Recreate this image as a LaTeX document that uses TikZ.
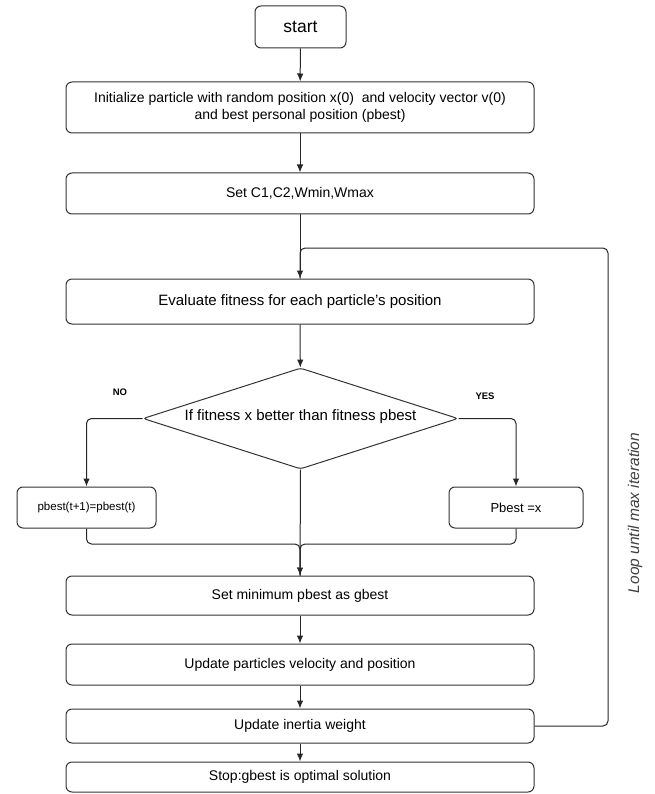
\documentclass[tikz,border=0pt]{standalone}
\usepackage{fontspec}
\setmainfont{Liberation Sans}
\usetikzlibrary{shapes.geometric,arrows.meta}

\begin{document}
\begin{tikzpicture}[x=1pt,y=-1pt]
  % some styles
  \tikzset{
    flow/.style={
      draw=black!80,
      line width=1pt,
      rounded corners=6pt
    },
    box/.style={
      flow,
      rectangle,
      minimum width=468pt,
      inner sep=0pt,
      align=center,
      font=\fontsize{14}{17}\selectfont
    },
    cond/.style={
      flow,
      diamond,
      aspect=3.1,
      inner sep=0pt,
      rounded corners=3pt,
      minimum width=315pt,
      minimum height=101pt,
      font=\fontsize{15}{18}\selectfont
    },
    link/.style={
      draw=black!85,
      line width=1pt,
      -{Latex[length=8pt,width=6.5pt]},
      rounded corners=5pt
    },
    mergeline/.style={
      draw=black!85,
      line width=1pt,
      rounded corners=5pt
    }
  }

\useasboundingbox (0,0) rectangle (654,794);

\node[box,minimum width=91pt,minimum height=42pt,font=\fontsize{17.5}{20}\selectfont] (start) at (300.5,27) {start};
\node[box,minimum height=51pt] (init) at (300,107.5)
  {Initialize particle with random position x(0)\ \ and velocity vector v(0)\\and best personal position (pbest)};
\node[box,minimum height=41pt] (setc) at (300,193.5) {Set C1,C2,Wmin,Wmax};
\node[box,minimum height=45pt,font=\fontsize{15}{18}\selectfont] (eval) at (300,301.5) {Evaluate fitness for each particle's position};
\node[cond] (dec) at (300.5,418.5) {\raisebox{7pt}{If fitness x better than fitness pbest}};
\node[box,minimum width=139pt,minimum height=41pt,font=\fontsize{11.5}{14}\selectfont] (pold) at (86.5,507.5) {pbest(t+1)=pbest(t)};
\node[box,minimum width=134pt,minimum height=41pt,font=\fontsize{13}{16}\selectfont] (pnew) at (516,507.5) {Pbest =x};
\node[box,minimum height=39pt] (gbest) at (300,595.5) {Set minimum pbest as gbest};
\node[box,minimum height=41pt] (upd) at (300,664.5) {Update particles velocity and position};
\node[box,minimum height=34pt] (inert) at (300,726) {Update inertia weight};
\node[box,minimum height=30pt] (stop) at (300,777) {Stop:gbest is optimal solution};

\node[font=\fontsize{9.5}{11}\selectfont\bfseries] (no) at (120,392) {NO};
\node[font=\fontsize{9.5}{11}\selectfont\bfseries] (yes) at (485,396) {YES};
\node[rotate=90,font=\fontsize{15.5}{18}\selectfont\itshape,text=black!75] (loop) at (635,513) {Loop until max iteration};

\coordinate (mrg) at (300,544);
\coordinate (rt) at (608,248);

% main column
\draw[link] (start) -- (init);
\draw[link] (init) -- (setc);
\draw[link] (setc) -- (eval);
\draw[link] (eval) -- (dec);
\draw[link] (dec.west) -| (pold.north);
\draw[link] (dec.east) -| (pnew.north);
\draw[mergeline] (pold.south) |- (mrg) -- (gbest.north);
\draw[mergeline] (pnew.south) |- (mrg) -- (gbest.north);
\draw[link] (dec.south) -- (gbest.north);
\draw[link] (gbest) -- (upd);
\draw[link] (upd) -- (inert);
\draw[link] (inert) -- (stop);

% loop back
\draw[mergeline] (inert.east) -| (rt) -| (eval.north);

\end{tikzpicture}
\end{document}
